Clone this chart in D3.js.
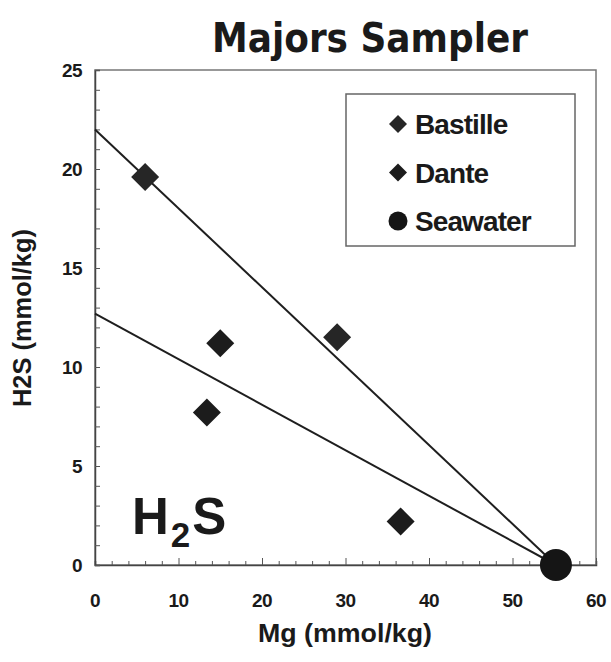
<!DOCTYPE html>
<html lang="en">
<head>
<meta charset="UTF-8">
<title>Majors Sampler</title>
<script src="https://d3js.org/d3.v7.min.js"></script>
<style>
    body { margin: 0; background: #fff; }
    svg { display: block; }
    .tick-label { font-family: "Liberation Sans", Arial, sans-serif; font-weight: bold; font-size: 19px; fill: #1a1a1a; letter-spacing: -0.6px; }
    .axis-title { font-family: "Liberation Sans", Arial, sans-serif; font-weight: bold; font-size: 26px; fill: #1a1a1a; }
    .legend-text { font-family: "Liberation Sans", Arial, sans-serif; font-weight: bold; font-size: 28px; fill: #1a1a1a; letter-spacing: -0.9px; }
</style>
</head>
<body>
<svg id="chart" width="611" height="662"></svg>
<script>
    // data
    const series = ["Bastille", "Dante", "Seawater"];
    const bastilleMg = [6.0, 29.0];
    const bastilleH2S = [19.6, 11.5];
    const danteMg = [15.0, 13.4, 36.6];
    const danteH2S = [11.2, 7.7, 2.2];
    const seawaterMg = [55.2];
    const seawaterH2S = [0];
    // mixing lines: zero-Mg endmember -> seawater
    const lineIntercepts = [22.0, 12.7];
    const xTicks = [0, 10, 20, 30, 40, 50, 60];
    const yTicks = [0, 5, 10, 15, 20, 25];

    const margin = { top: 70, right: 15, bottom: 97, left: 95 },
        width = 611 - margin.left - margin.right,
        height = 662 - margin.top - margin.bottom;

    const svg = d3.select("#chart");
    const g = svg.append("g").attr("transform", `translate(${margin.left},${margin.top})`);

    const x = d3.scaleLinear().domain([0, 60]).range([0, width]);
    const y = d3.scaleLinear().domain([0, 25]).range([height, 0]);

    // title
    svg.append("text")
        .attr("x", 370).attr("y", 52)
        .attr("text-anchor", "middle")
        .attr("textLength", 316).attr("lengthAdjust", "spacingAndGlyphs")
        .style("font-family", "'Comic Sans MS', 'DejaVu Sans', sans-serif")
        .style("font-weight", "bold").style("font-size", "41px").style("fill", "#1a1a1a")
        .text("Majors Sampler");

    // frame
    g.append("rect")
        .attr("width", width).attr("height", height)
        .attr("fill", "none").attr("stroke", "#777").attr("stroke-width", 1.5);

    // minor / major ticks, pointing inward
    const xAxis = d3.axisBottom(x).tickValues(d3.range(0, 61, 2)).tickSize(-4).tickFormat("");
    g.append("g").attr("transform", `translate(0,${height})`).call(xAxis)
        .call(s => s.select(".domain").attr("stroke", "#444").attr("stroke-width", 1.5))
        .call(s => s.selectAll(".tick line").attr("stroke", "#555")
            .attr("y2", d => d % 10 === 0 ? -7 : -4));
    const yAxis = d3.axisLeft(y).tickValues(d3.range(0, 26, 1)).tickSize(-5).tickFormat("");
    g.append("g").call(yAxis)
        .call(s => s.select(".domain").attr("stroke", "#444").attr("stroke-width", 1.5))
        .call(s => s.selectAll(".tick line").attr("stroke", "#555"));

    g.selectAll(".xlab").data(xTicks).enter().append("text")
        .attr("class", "tick-label")
        .attr("x", d => x(d)).attr("y", height + 42)
        .attr("text-anchor", "middle").text(d => d);
    g.selectAll(".ylab").data(yTicks).enter().append("text")
        .attr("class", "tick-label")
        .attr("x", -13).attr("y", d => y(d) + 7)
        .attr("text-anchor", "end").text(d => d);

    // axis titles
    svg.append("text").attr("class", "axis-title")
        .attr("x", 345).attr("y", 642).attr("text-anchor", "middle")
        .attr("textLength", 174).attr("lengthAdjust", "spacingAndGlyphs")
        .text("Mg (mmol/kg)");
    svg.append("text").attr("class", "axis-title")
        .attr("transform", "translate(31,318) rotate(-90)")
        .attr("text-anchor", "middle")
        .attr("textLength", 178).attr("lengthAdjust", "spacingAndGlyphs")
        .text("H2S (mmol/kg)");

    // mixing lines
    g.selectAll(".mix").data(lineIntercepts).enter().append("line")
        .attr("x1", x(0)).attr("y1", d => y(d))
        .attr("x2", x(seawaterMg[0])).attr("y2", y(seawaterH2S[0]))
        .attr("stroke", "#1e1e1e").attr("stroke-width", 2);

    const diamond = r => `M0,${-r}L${r},0L0,${r}L${-r},0Z`;
    const pts = [
        ...bastilleMg.map((m, i) => ({ s: "Bastille", mg: m, h: bastilleH2S[i] })),
        ...danteMg.map((m, i) => ({ s: "Dante", mg: m, h: danteH2S[i] }))
    ];
    const color = d3.scaleOrdinal().domain(series).range(["#262626", "#1c1c1c", "#151515"]);

    g.selectAll(".pt").data(pts).enter().append("path")
        .attr("d", diamond(14))
        .attr("transform", d => `translate(${x(d.mg)},${y(d.h)})`)
        .attr("fill", d => color(d.s));

    g.selectAll(".sw").data(seawaterMg).enter().append("circle")
        .attr("cx", d => x(d)).attr("cy", (d, i) => y(seawaterH2S[i]))
        .attr("r", 16).attr("fill", color("Seawater"));

    // H2S label
    const lab = g.append("text")
        .attr("x", 37).attr("y", 464)
        .style("font-family", "'Liberation Sans', Arial, sans-serif")
        .style("font-weight", "bold").style("font-size", "51px").style("fill", "#1a1a1a")
        .style("letter-spacing", "2px");
    lab.append("tspan").text("H");
    lab.append("tspan").attr("dy", 13).style("font-size", "35px").text("2");
    lab.append("tspan").attr("dy", -13).text("S");

    // legend
    const leg = svg.append("g").attr("transform", "translate(346,94)");
    leg.append("rect").attr("width", 229).attr("height", 152)
        .attr("fill", "#fff").attr("stroke", "#666").attr("stroke-width", 1.5);
    const item = leg.selectAll(".item").data(series).enter().append("g")
        .attr("transform", (d, i) => `translate(52,${30 + i * 48.5})`);
    item.filter(d => d !== "Seawater").append("path")
        .attr("d", diamond(9)).attr("fill", d => color(d));
    item.filter(d => d === "Seawater").append("circle")
        .attr("r", 9.5).attr("fill", d => color(d));
    item.append("text").attr("class", "legend-text")
        .attr("x", 17).attr("y", 10).text(d => d);
</script>
</body>
</html>
